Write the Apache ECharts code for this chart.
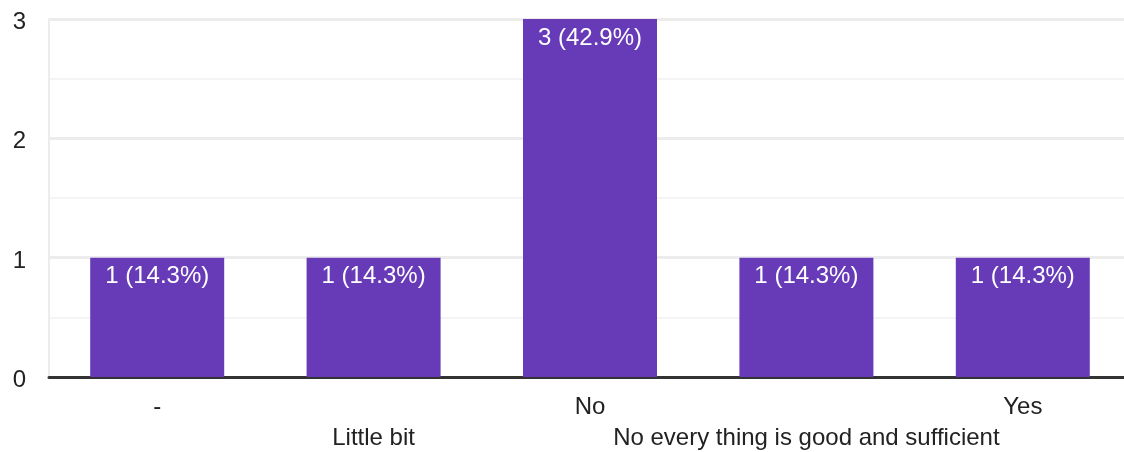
<!DOCTYPE html>
<html>
<head>
<meta charset="utf-8">
<script src="https://cdn.jsdelivr.net/npm/echarts@6/dist/echarts.min.js"></script>
<style>
  html, body { margin: 0; padding: 0; background: #fff; }
  #chart { width: 1124px; height: 452px; }
</style>
</head>
<body>
<div id="chart"></div>
<script>
// answers and counts
var categories = ['-', 'Little bit', 'No', 'No every thing is good and sufficient', 'Yes'];
var counts = [1, 1, 3, 1, 1];
var percents = ['14.3%', '14.3%', '42.9%', '14.3%', '14.3%'];
var yTicks = [0, 1, 2, 3];

var font = 'Arial, "Liberation Sans", sans-serif';
var chart = echarts.init(document.getElementById('chart'));

var option = {
  animation: false,
  grid: { left: 49, top: 19, width: 1082, height: 358, outerBoundsMode: 'none' },
  xAxis: {
    type: 'category',
    data: categories,
    axisTick: { show: false },
    axisLine: { lineStyle: { color: '#333', width: 3 } },
    axisLabel: {
      interval: 0,
      margin: 15,
      color: '#222',
      fontSize: 24,
      fontFamily: font,
      lineHeight: 31,
      // odd labels drop to a second row
      formatter: function (v, i) { return i % 2 ? '\n' + v : v; }
    }
  },
  yAxis: {
    type: 'value',
    min: yTicks[0],
    max: yTicks[yTicks.length - 1],
    interval: 1,
    axisLine: { show: true, lineStyle: { color: '#ececec', width: 2 } },
    axisTick: { show: false },
    axisLabel: {
      margin: 23, color: '#222', fontSize: 24, fontFamily: font,
      formatter: function (v) { return '{t|' + v + '}'; },
      rich: { t: { color: '#222', fontSize: 24, fontFamily: font, padding: [7, 0, 0, 0] } }
    },
    splitLine: { lineStyle: { color: '#ececec', width: 3 } },
    minorTick: { show: false, splitNumber: 2 },
    minorSplitLine: { show: true, lineStyle: { color: '#f4f4f4', width: 2 } }
  },
  series: [{
    type: 'bar',
    data: counts,
    barWidth: 134,
    itemStyle: { color: '#673ab7' },
    label: {
      show: true,
      position: 'insideTop',
      distance: 7,
      color: '#fff',
      fontSize: 24,
      fontFamily: font,
      formatter: function (p) { return p.value + ' (' + percents[p.dataIndex] + ')'; }
    }
  }]
};
chart.setOption(option);
</script>
</body>
</html>
